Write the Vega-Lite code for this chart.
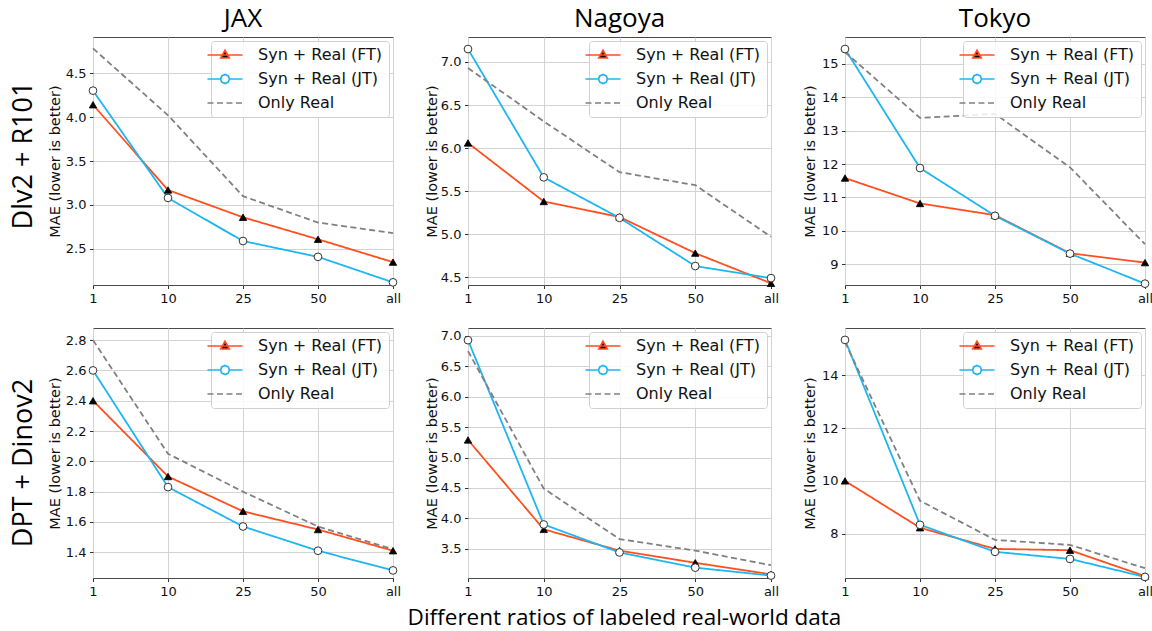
{
  "$schema": "https://vega.github.io/schema/vega-lite/v6.json",
  "background": "white",
  "padding": {"left": 9, "top": 5, "right": 0, "bottom": 4},
  "config": {
    "font": "DejaVu Sans",
    "view": {"stroke": "#4a4a4a", "strokeWidth": 1},
    "axis": {"grid": true, "gridColor": "#d3d3d3", "gridWidth": 1, "domain": false, "tickColor": "#333", "tickSize": 3.5, "labelFont": "DejaVu Sans", "labelFontSize": 13, "labelColor": "#111", "labelPadding": 3.5, "titleFont": "DejaVu Sans", "titleFontSize": 14.5, "titleFontWeight": "normal", "titleColor": "#111", "titlePadding": 3},
    "axisX": {"labelAngle": 0},
    "legend": {"orient": "top-right", "offset": 4, "fillColor": "rgba(255,255,255,0.85)", "strokeColor": "#d0d0d0", "cornerRadius": 3, "padding": 6, "labelFont": "DejaVu Sans", "labelFontSize": 16, "labelColor": "#111", "symbolSize": 100, "symbolStrokeWidth": 1.7, "labelOffset": 25, "rowPadding": 8},
    "title": {"font": "Open Sans", "fontSize": 26, "fontWeight": "normal", "color": "#000", "offset": 5},
    "concat": {"spacing": 21}
  },
  "data": {"values": [
    {"r": "top", "c": "JAX", "s": "Syn + Real (FT)", "ratio": "1", "mae": 4.14},
    {"r": "top", "c": "JAX", "s": "Syn + Real (FT)", "ratio": "10", "mae": 3.17},
    {"r": "top", "c": "JAX", "s": "Syn + Real (FT)", "ratio": "25", "mae": 2.86},
    {"r": "top", "c": "JAX", "s": "Syn + Real (FT)", "ratio": "50", "mae": 2.61},
    {"r": "top", "c": "JAX", "s": "Syn + Real (FT)", "ratio": "all", "mae": 2.35},
    {"r": "top", "c": "JAX", "s": "Syn + Real (JT)", "ratio": "1", "mae": 4.30},
    {"r": "top", "c": "JAX", "s": "Syn + Real (JT)", "ratio": "10", "mae": 3.08},
    {"r": "top", "c": "JAX", "s": "Syn + Real (JT)", "ratio": "25", "mae": 2.59},
    {"r": "top", "c": "JAX", "s": "Syn + Real (JT)", "ratio": "50", "mae": 2.41},
    {"r": "top", "c": "JAX", "s": "Syn + Real (JT)", "ratio": "all", "mae": 2.12},
    {"r": "top", "c": "JAX", "s": "Only Real", "ratio": "1", "mae": 4.78},
    {"r": "top", "c": "JAX", "s": "Only Real", "ratio": "10", "mae": 4.02},
    {"r": "top", "c": "JAX", "s": "Only Real", "ratio": "25", "mae": 3.10},
    {"r": "top", "c": "JAX", "s": "Only Real", "ratio": "50", "mae": 2.80},
    {"r": "top", "c": "JAX", "s": "Only Real", "ratio": "all", "mae": 2.68},
    {"r": "top", "c": "Nagoya", "s": "Syn + Real (FT)", "ratio": "1", "mae": 6.06},
    {"r": "top", "c": "Nagoya", "s": "Syn + Real (FT)", "ratio": "10", "mae": 5.38},
    {"r": "top", "c": "Nagoya", "s": "Syn + Real (FT)", "ratio": "25", "mae": 5.20},
    {"r": "top", "c": "Nagoya", "s": "Syn + Real (FT)", "ratio": "50", "mae": 4.78},
    {"r": "top", "c": "Nagoya", "s": "Syn + Real (FT)", "ratio": "all", "mae": 4.43},
    {"r": "top", "c": "Nagoya", "s": "Syn + Real (JT)", "ratio": "1", "mae": 7.15},
    {"r": "top", "c": "Nagoya", "s": "Syn + Real (JT)", "ratio": "10", "mae": 5.66},
    {"r": "top", "c": "Nagoya", "s": "Syn + Real (JT)", "ratio": "25", "mae": 5.19},
    {"r": "top", "c": "Nagoya", "s": "Syn + Real (JT)", "ratio": "50", "mae": 4.63},
    {"r": "top", "c": "Nagoya", "s": "Syn + Real (JT)", "ratio": "all", "mae": 4.49},
    {"r": "top", "c": "Nagoya", "s": "Only Real", "ratio": "1", "mae": 6.93},
    {"r": "top", "c": "Nagoya", "s": "Only Real", "ratio": "10", "mae": 6.31},
    {"r": "top", "c": "Nagoya", "s": "Only Real", "ratio": "25", "mae": 5.72},
    {"r": "top", "c": "Nagoya", "s": "Only Real", "ratio": "50", "mae": 5.57},
    {"r": "top", "c": "Nagoya", "s": "Only Real", "ratio": "all", "mae": 4.97},
    {"r": "top", "c": "Tokyo", "s": "Syn + Real (FT)", "ratio": "1", "mae": 11.58},
    {"r": "top", "c": "Tokyo", "s": "Syn + Real (FT)", "ratio": "10", "mae": 10.82},
    {"r": "top", "c": "Tokyo", "s": "Syn + Real (FT)", "ratio": "25", "mae": 10.47},
    {"r": "top", "c": "Tokyo", "s": "Syn + Real (FT)", "ratio": "50", "mae": 9.33},
    {"r": "top", "c": "Tokyo", "s": "Syn + Real (FT)", "ratio": "all", "mae": 9.05},
    {"r": "top", "c": "Tokyo", "s": "Syn + Real (JT)", "ratio": "1", "mae": 15.44},
    {"r": "top", "c": "Tokyo", "s": "Syn + Real (JT)", "ratio": "10", "mae": 11.88},
    {"r": "top", "c": "Tokyo", "s": "Syn + Real (JT)", "ratio": "25", "mae": 10.45},
    {"r": "top", "c": "Tokyo", "s": "Syn + Real (JT)", "ratio": "50", "mae": 9.32},
    {"r": "top", "c": "Tokyo", "s": "Syn + Real (JT)", "ratio": "all", "mae": 8.42},
    {"r": "top", "c": "Tokyo", "s": "Only Real", "ratio": "1", "mae": 15.35},
    {"r": "top", "c": "Tokyo", "s": "Only Real", "ratio": "10", "mae": 13.38},
    {"r": "top", "c": "Tokyo", "s": "Only Real", "ratio": "25", "mae": 13.50},
    {"r": "top", "c": "Tokyo", "s": "Only Real", "ratio": "50", "mae": 11.90},
    {"r": "top", "c": "Tokyo", "s": "Only Real", "ratio": "all", "mae": 9.60},
    {"r": "bot", "c": "JAX", "s": "Syn + Real (FT)", "ratio": "1", "mae": 2.40},
    {"r": "bot", "c": "JAX", "s": "Syn + Real (FT)", "ratio": "10", "mae": 1.90},
    {"r": "bot", "c": "JAX", "s": "Syn + Real (FT)", "ratio": "25", "mae": 1.67},
    {"r": "bot", "c": "JAX", "s": "Syn + Real (FT)", "ratio": "50", "mae": 1.55},
    {"r": "bot", "c": "JAX", "s": "Syn + Real (FT)", "ratio": "all", "mae": 1.41},
    {"r": "bot", "c": "JAX", "s": "Syn + Real (JT)", "ratio": "1", "mae": 2.60},
    {"r": "bot", "c": "JAX", "s": "Syn + Real (JT)", "ratio": "10", "mae": 1.83},
    {"r": "bot", "c": "JAX", "s": "Syn + Real (JT)", "ratio": "25", "mae": 1.57},
    {"r": "bot", "c": "JAX", "s": "Syn + Real (JT)", "ratio": "50", "mae": 1.41},
    {"r": "bot", "c": "JAX", "s": "Syn + Real (JT)", "ratio": "all", "mae": 1.28},
    {"r": "bot", "c": "JAX", "s": "Only Real", "ratio": "1", "mae": 2.80},
    {"r": "bot", "c": "JAX", "s": "Only Real", "ratio": "10", "mae": 2.05},
    {"r": "bot", "c": "JAX", "s": "Only Real", "ratio": "25", "mae": 1.80},
    {"r": "bot", "c": "JAX", "s": "Only Real", "ratio": "50", "mae": 1.57},
    {"r": "bot", "c": "JAX", "s": "Only Real", "ratio": "all", "mae": 1.42},
    {"r": "bot", "c": "Nagoya", "s": "Syn + Real (FT)", "ratio": "1", "mae": 5.29},
    {"r": "bot", "c": "Nagoya", "s": "Syn + Real (FT)", "ratio": "10", "mae": 3.82},
    {"r": "bot", "c": "Nagoya", "s": "Syn + Real (FT)", "ratio": "25", "mae": 3.47},
    {"r": "bot", "c": "Nagoya", "s": "Syn + Real (FT)", "ratio": "50", "mae": 3.27},
    {"r": "bot", "c": "Nagoya", "s": "Syn + Real (FT)", "ratio": "all", "mae": 3.08},
    {"r": "bot", "c": "Nagoya", "s": "Syn + Real (JT)", "ratio": "1", "mae": 6.93},
    {"r": "bot", "c": "Nagoya", "s": "Syn + Real (JT)", "ratio": "10", "mae": 3.90},
    {"r": "bot", "c": "Nagoya", "s": "Syn + Real (JT)", "ratio": "25", "mae": 3.44},
    {"r": "bot", "c": "Nagoya", "s": "Syn + Real (JT)", "ratio": "50", "mae": 3.19},
    {"r": "bot", "c": "Nagoya", "s": "Syn + Real (JT)", "ratio": "all", "mae": 3.06},
    {"r": "bot", "c": "Nagoya", "s": "Only Real", "ratio": "1", "mae": 6.75},
    {"r": "bot", "c": "Nagoya", "s": "Only Real", "ratio": "10", "mae": 4.49},
    {"r": "bot", "c": "Nagoya", "s": "Only Real", "ratio": "25", "mae": 3.66},
    {"r": "bot", "c": "Nagoya", "s": "Only Real", "ratio": "50", "mae": 3.47},
    {"r": "bot", "c": "Nagoya", "s": "Only Real", "ratio": "all", "mae": 3.23},
    {"r": "bot", "c": "Tokyo", "s": "Syn + Real (FT)", "ratio": "1", "mae": 10.0},
    {"r": "bot", "c": "Tokyo", "s": "Syn + Real (FT)", "ratio": "10", "mae": 8.23},
    {"r": "bot", "c": "Tokyo", "s": "Syn + Real (FT)", "ratio": "25", "mae": 7.43},
    {"r": "bot", "c": "Tokyo", "s": "Syn + Real (FT)", "ratio": "50", "mae": 7.38},
    {"r": "bot", "c": "Tokyo", "s": "Syn + Real (FT)", "ratio": "all", "mae": 6.40},
    {"r": "bot", "c": "Tokyo", "s": "Syn + Real (JT)", "ratio": "1", "mae": 15.33},
    {"r": "bot", "c": "Tokyo", "s": "Syn + Real (JT)", "ratio": "10", "mae": 8.34},
    {"r": "bot", "c": "Tokyo", "s": "Syn + Real (JT)", "ratio": "25", "mae": 7.32},
    {"r": "bot", "c": "Tokyo", "s": "Syn + Real (JT)", "ratio": "50", "mae": 7.05},
    {"r": "bot", "c": "Tokyo", "s": "Syn + Real (JT)", "ratio": "all", "mae": 6.37},
    {"r": "bot", "c": "Tokyo", "s": "Only Real", "ratio": "1", "mae": 15.25},
    {"r": "bot", "c": "Tokyo", "s": "Only Real", "ratio": "10", "mae": 9.25},
    {"r": "bot", "c": "Tokyo", "s": "Only Real", "ratio": "25", "mae": 7.77},
    {"r": "bot", "c": "Tokyo", "s": "Only Real", "ratio": "50", "mae": 7.58},
    {"r": "bot", "c": "Tokyo", "s": "Only Real", "ratio": "all", "mae": 6.70}
  ]},
  "title": {"text": "Different ratios of labeled real-world data", "orient": "bottom", "fontSize": 22.5, "offset": 8, "anchor": "middle", "frame": "bounds", "dx": 43},
  "resolve": {"legend": {"stroke": "independent", "fill": "independent", "shape": "independent", "strokeDash": "independent"}},
  "vconcat": [
    {
      "title": {"text": "Dlv2 + R101", "orient": "left", "fontSize": 27, "anchor": "middle", "offset": 9, "frame": "bounds"},
      "resolve": {"legend": {"stroke": "independent", "fill": "independent", "shape": "independent", "strokeDash": "independent"}},
      "hconcat": [
        {
          "width": 300, "height": 248,
          "title": {"text": "JAX", "frame": "group"},
          "transform": [{"filter": "datum.r == 'top' && datum.c == 'JAX'"}],
          "encoding": {
            "x": {"field": "ratio", "type": "ordinal", "sort": ["1", "10", "25", "50", "all"], "scale": {"type": "point", "padding": 0}, "axis": {"title": null}},
            "y": {"field": "mae", "type": "quantitative", "title": "MAE (lower is better)", "scale": {"domain": [2.09, 4.91], "nice": false, "zero": false}, "axis": {"values": [2.5, 3.0, 3.5, 4.0, 4.5], "format": ".1f", "titlePadding": 3}}
          },
          "layer": [
            {"transform": [{"filter": "false"}], "mark": {"type": "point", "filled": true, "opacity": 1}, "encoding": {
              "shape": {"field": "s", "type": "nominal", "scale": {"domain": ["Syn + Real (FT)", "Syn + Real (JT)", "Only Real"], "range": ["M-3.5,0H3.5M0,-0.95L0.85,0.6H-0.85Z", "M-3.5,0H-0.9M0.9,0H3.5M-0.9,0L-0.64,-0.64L0,-0.9L0.64,-0.64L0.9,0L0.64,0.64L0,0.9L-0.64,0.64Z", "M-3.5,0H3.5"]}, "legend": {"title": null, "orient": "top-right"}},
              "stroke": {"field": "s", "type": "nominal", "scale": {"domain": ["Syn + Real (FT)", "Syn + Real (JT)", "Only Real"], "range": ["#ff4f1f", "#1eb6f0", "#808080"]}, "legend": {"title": null, "orient": "top-right"}},
              "fill": {"field": "s", "type": "nominal", "scale": {"domain": ["Syn + Real (FT)", "Syn + Real (JT)", "Only Real"], "range": ["#000000", "#ffffff", "#ffffff"]}, "legend": {"title": null, "orient": "top-right"}},
              "strokeDash": {"field": "s", "type": "nominal", "scale": {"domain": ["Syn + Real (FT)", "Syn + Real (JT)", "Only Real"], "range": [[1, 0], [1, 0], [6, 3.5]]}, "legend": {"title": null, "orient": "top-right"}}
            }},
            {"mark": {"type": "line", "strokeWidth": 1.8}, "encoding": {"stroke": {"field": "s", "type": "nominal", "scale": {"domain": ["Syn + Real (FT)", "Syn + Real (JT)", "Only Real"], "range": ["#ff4f1f", "#1eb6f0", "#808080"]}, "legend": {"title": null, "orient": "top-right"}}, "strokeDash": {"field": "s", "type": "nominal", "scale": {"domain": ["Syn + Real (FT)", "Syn + Real (JT)", "Only Real"], "range": [[1, 0], [1, 0], [6, 3.5]]}, "legend": {"title": null, "orient": "top-right"}}}},
            {"transform": [{"filter": "datum.s == 'Syn + Real (FT)'"}], "mark": {"type": "point", "shape": "triangle-up", "filled": true, "fill": "black", "stroke": "black", "strokeWidth": 0.8, "size": 55, "opacity": 1}},
            {"transform": [{"filter": "datum.s == 'Syn + Real (JT)'"}], "mark": {"type": "point", "shape": "circle", "filled": true, "fill": "white", "stroke": "#333", "strokeWidth": 1, "size": 60, "opacity": 1}}
          ]
        },
        {
          "width": 303, "height": 248,
          "title": {"text": "Nagoya", "frame": "group"},
          "transform": [{"filter": "datum.r == 'top' && datum.c == 'Nagoya'"}],
          "encoding": {
            "x": {"field": "ratio", "type": "ordinal", "sort": ["1", "10", "25", "50", "all"], "scale": {"type": "point", "padding": 0}, "axis": {"title": null}},
            "y": {"field": "mae", "type": "quantitative", "title": "MAE (lower is better)", "scale": {"domain": [4.41, 7.29], "nice": false, "zero": false}, "axis": {"values": [4.5, 5.0, 5.5, 6.0, 6.5, 7.0], "format": ".1f", "titlePadding": 1}}
          },
          "layer": [
            {"transform": [{"filter": "false"}], "mark": {"type": "point", "filled": true, "opacity": 1}, "encoding": {
              "shape": {"field": "s", "type": "nominal", "scale": {"domain": ["Syn + Real (FT)", "Syn + Real (JT)", "Only Real"], "range": ["M-3.5,0H3.5M0,-0.95L0.85,0.6H-0.85Z", "M-3.5,0H-0.9M0.9,0H3.5M-0.9,0L-0.64,-0.64L0,-0.9L0.64,-0.64L0.9,0L0.64,0.64L0,0.9L-0.64,0.64Z", "M-3.5,0H3.5"]}, "legend": {"title": null, "orient": "top-right"}},
              "stroke": {"field": "s", "type": "nominal", "scale": {"domain": ["Syn + Real (FT)", "Syn + Real (JT)", "Only Real"], "range": ["#ff4f1f", "#1eb6f0", "#808080"]}, "legend": {"title": null, "orient": "top-right"}},
              "fill": {"field": "s", "type": "nominal", "scale": {"domain": ["Syn + Real (FT)", "Syn + Real (JT)", "Only Real"], "range": ["#000000", "#ffffff", "#ffffff"]}, "legend": {"title": null, "orient": "top-right"}},
              "strokeDash": {"field": "s", "type": "nominal", "scale": {"domain": ["Syn + Real (FT)", "Syn + Real (JT)", "Only Real"], "range": [[1, 0], [1, 0], [6, 3.5]]}, "legend": {"title": null, "orient": "top-right"}}
            }},
            {"mark": {"type": "line", "strokeWidth": 1.8}, "encoding": {"stroke": {"field": "s", "type": "nominal", "scale": {"domain": ["Syn + Real (FT)", "Syn + Real (JT)", "Only Real"], "range": ["#ff4f1f", "#1eb6f0", "#808080"]}, "legend": {"title": null, "orient": "top-right"}}, "strokeDash": {"field": "s", "type": "nominal", "scale": {"domain": ["Syn + Real (FT)", "Syn + Real (JT)", "Only Real"], "range": [[1, 0], [1, 0], [6, 3.5]]}, "legend": {"title": null, "orient": "top-right"}}}},
            {"transform": [{"filter": "datum.s == 'Syn + Real (FT)'"}], "mark": {"type": "point", "shape": "triangle-up", "filled": true, "fill": "black", "stroke": "black", "strokeWidth": 0.8, "size": 55, "opacity": 1}},
            {"transform": [{"filter": "datum.s == 'Syn + Real (JT)'"}], "mark": {"type": "point", "shape": "circle", "filled": true, "fill": "white", "stroke": "#333", "strokeWidth": 1, "size": 60, "opacity": 1}}
          ]
        },
        {
          "width": 300, "height": 248,
          "title": {"text": "Tokyo", "frame": "group"},
          "transform": [{"filter": "datum.r == 'top' && datum.c == 'Tokyo'"}],
          "encoding": {
            "x": {"field": "ratio", "type": "ordinal", "sort": ["1", "10", "25", "50", "all"], "scale": {"type": "point", "padding": 0}, "axis": {"title": null}},
            "y": {"field": "mae", "type": "quantitative", "title": "MAE (lower is better)", "scale": {"domain": [8.38, 15.8], "nice": false, "zero": false}, "axis": {"values": [9, 10, 11, 12, 13, 14, 15], "format": "d", "titlePadding": 4}}
          },
          "layer": [
            {"transform": [{"filter": "false"}], "mark": {"type": "point", "filled": true, "opacity": 1}, "encoding": {
              "shape": {"field": "s", "type": "nominal", "scale": {"domain": ["Syn + Real (FT)", "Syn + Real (JT)", "Only Real"], "range": ["M-3.5,0H3.5M0,-0.95L0.85,0.6H-0.85Z", "M-3.5,0H-0.9M0.9,0H3.5M-0.9,0L-0.64,-0.64L0,-0.9L0.64,-0.64L0.9,0L0.64,0.64L0,0.9L-0.64,0.64Z", "M-3.5,0H3.5"]}, "legend": {"title": null, "orient": "top-right"}},
              "stroke": {"field": "s", "type": "nominal", "scale": {"domain": ["Syn + Real (FT)", "Syn + Real (JT)", "Only Real"], "range": ["#ff4f1f", "#1eb6f0", "#808080"]}, "legend": {"title": null, "orient": "top-right"}},
              "fill": {"field": "s", "type": "nominal", "scale": {"domain": ["Syn + Real (FT)", "Syn + Real (JT)", "Only Real"], "range": ["#000000", "#ffffff", "#ffffff"]}, "legend": {"title": null, "orient": "top-right"}},
              "strokeDash": {"field": "s", "type": "nominal", "scale": {"domain": ["Syn + Real (FT)", "Syn + Real (JT)", "Only Real"], "range": [[1, 0], [1, 0], [6, 3.5]]}, "legend": {"title": null, "orient": "top-right"}}
            }},
            {"mark": {"type": "line", "strokeWidth": 1.8}, "encoding": {"stroke": {"field": "s", "type": "nominal", "scale": {"domain": ["Syn + Real (FT)", "Syn + Real (JT)", "Only Real"], "range": ["#ff4f1f", "#1eb6f0", "#808080"]}, "legend": {"title": null, "orient": "top-right"}}, "strokeDash": {"field": "s", "type": "nominal", "scale": {"domain": ["Syn + Real (FT)", "Syn + Real (JT)", "Only Real"], "range": [[1, 0], [1, 0], [6, 3.5]]}, "legend": {"title": null, "orient": "top-right"}}}},
            {"transform": [{"filter": "datum.s == 'Syn + Real (FT)'"}], "mark": {"type": "point", "shape": "triangle-up", "filled": true, "fill": "black", "stroke": "black", "strokeWidth": 0.8, "size": 55, "opacity": 1}},
            {"transform": [{"filter": "datum.s == 'Syn + Real (JT)'"}], "mark": {"type": "point", "shape": "circle", "filled": true, "fill": "white", "stroke": "#333", "strokeWidth": 1, "size": 60, "opacity": 1}}
          ]
        }
      ]
    },
    {
      "title": {"text": "DPT + Dinov2", "orient": "left", "fontSize": 27, "anchor": "middle", "offset": 9, "frame": "bounds"},
      "resolve": {"legend": {"stroke": "independent", "fill": "independent", "shape": "independent", "strokeDash": "independent"}},
      "hconcat": [
        {
          "width": 300, "height": 250,
          "transform": [{"filter": "datum.r == 'bot' && datum.c == 'JAX'"}],
          "encoding": {
            "x": {"field": "ratio", "type": "ordinal", "sort": ["1", "10", "25", "50", "all"], "scale": {"type": "point", "padding": 0}, "axis": {"title": null}},
            "y": {"field": "mae", "type": "quantitative", "title": "MAE (lower is better)", "scale": {"domain": [1.23, 2.88], "nice": false, "zero": false}, "axis": {"values": [1.4, 1.6, 1.8, 2.0, 2.2, 2.4, 2.6, 2.8], "format": ".1f", "titlePadding": 3}}
          },
          "layer": [
            {"transform": [{"filter": "false"}], "mark": {"type": "point", "filled": true, "opacity": 1}, "encoding": {
              "shape": {"field": "s", "type": "nominal", "scale": {"domain": ["Syn + Real (FT)", "Syn + Real (JT)", "Only Real"], "range": ["M-3.5,0H3.5M0,-0.95L0.85,0.6H-0.85Z", "M-3.5,0H-0.9M0.9,0H3.5M-0.9,0L-0.64,-0.64L0,-0.9L0.64,-0.64L0.9,0L0.64,0.64L0,0.9L-0.64,0.64Z", "M-3.5,0H3.5"]}, "legend": {"title": null, "orient": "top-right"}},
              "stroke": {"field": "s", "type": "nominal", "scale": {"domain": ["Syn + Real (FT)", "Syn + Real (JT)", "Only Real"], "range": ["#ff4f1f", "#1eb6f0", "#808080"]}, "legend": {"title": null, "orient": "top-right"}},
              "fill": {"field": "s", "type": "nominal", "scale": {"domain": ["Syn + Real (FT)", "Syn + Real (JT)", "Only Real"], "range": ["#000000", "#ffffff", "#ffffff"]}, "legend": {"title": null, "orient": "top-right"}},
              "strokeDash": {"field": "s", "type": "nominal", "scale": {"domain": ["Syn + Real (FT)", "Syn + Real (JT)", "Only Real"], "range": [[1, 0], [1, 0], [6, 3.5]]}, "legend": {"title": null, "orient": "top-right"}}
            }},
            {"mark": {"type": "line", "strokeWidth": 1.8}, "encoding": {"stroke": {"field": "s", "type": "nominal", "scale": {"domain": ["Syn + Real (FT)", "Syn + Real (JT)", "Only Real"], "range": ["#ff4f1f", "#1eb6f0", "#808080"]}, "legend": {"title": null, "orient": "top-right"}}, "strokeDash": {"field": "s", "type": "nominal", "scale": {"domain": ["Syn + Real (FT)", "Syn + Real (JT)", "Only Real"], "range": [[1, 0], [1, 0], [6, 3.5]]}, "legend": {"title": null, "orient": "top-right"}}}},
            {"transform": [{"filter": "datum.s == 'Syn + Real (FT)'"}], "mark": {"type": "point", "shape": "triangle-up", "filled": true, "fill": "black", "stroke": "black", "strokeWidth": 0.8, "size": 55, "opacity": 1}},
            {"transform": [{"filter": "datum.s == 'Syn + Real (JT)'"}], "mark": {"type": "point", "shape": "circle", "filled": true, "fill": "white", "stroke": "#333", "strokeWidth": 1, "size": 60, "opacity": 1}}
          ]
        },
        {
          "width": 303, "height": 250,
          "transform": [{"filter": "datum.r == 'bot' && datum.c == 'Nagoya'"}],
          "encoding": {
            "x": {"field": "ratio", "type": "ordinal", "sort": ["1", "10", "25", "50", "all"], "scale": {"type": "point", "padding": 0}, "axis": {"title": null}},
            "y": {"field": "mae", "type": "quantitative", "title": "MAE (lower is better)", "scale": {"domain": [3.02, 7.13], "nice": false, "zero": false}, "axis": {"values": [3.5, 4.0, 4.5, 5.0, 5.5, 6.0, 6.5, 7.0], "format": ".1f", "titlePadding": 1}}
          },
          "layer": [
            {"transform": [{"filter": "false"}], "mark": {"type": "point", "filled": true, "opacity": 1}, "encoding": {
              "shape": {"field": "s", "type": "nominal", "scale": {"domain": ["Syn + Real (FT)", "Syn + Real (JT)", "Only Real"], "range": ["M-3.5,0H3.5M0,-0.95L0.85,0.6H-0.85Z", "M-3.5,0H-0.9M0.9,0H3.5M-0.9,0L-0.64,-0.64L0,-0.9L0.64,-0.64L0.9,0L0.64,0.64L0,0.9L-0.64,0.64Z", "M-3.5,0H3.5"]}, "legend": {"title": null, "orient": "top-right"}},
              "stroke": {"field": "s", "type": "nominal", "scale": {"domain": ["Syn + Real (FT)", "Syn + Real (JT)", "Only Real"], "range": ["#ff4f1f", "#1eb6f0", "#808080"]}, "legend": {"title": null, "orient": "top-right"}},
              "fill": {"field": "s", "type": "nominal", "scale": {"domain": ["Syn + Real (FT)", "Syn + Real (JT)", "Only Real"], "range": ["#000000", "#ffffff", "#ffffff"]}, "legend": {"title": null, "orient": "top-right"}},
              "strokeDash": {"field": "s", "type": "nominal", "scale": {"domain": ["Syn + Real (FT)", "Syn + Real (JT)", "Only Real"], "range": [[1, 0], [1, 0], [6, 3.5]]}, "legend": {"title": null, "orient": "top-right"}}
            }},
            {"mark": {"type": "line", "strokeWidth": 1.8}, "encoding": {"stroke": {"field": "s", "type": "nominal", "scale": {"domain": ["Syn + Real (FT)", "Syn + Real (JT)", "Only Real"], "range": ["#ff4f1f", "#1eb6f0", "#808080"]}, "legend": {"title": null, "orient": "top-right"}}, "strokeDash": {"field": "s", "type": "nominal", "scale": {"domain": ["Syn + Real (FT)", "Syn + Real (JT)", "Only Real"], "range": [[1, 0], [1, 0], [6, 3.5]]}, "legend": {"title": null, "orient": "top-right"}}}},
            {"transform": [{"filter": "datum.s == 'Syn + Real (FT)'"}], "mark": {"type": "point", "shape": "triangle-up", "filled": true, "fill": "black", "stroke": "black", "strokeWidth": 0.8, "size": 55, "opacity": 1}},
            {"transform": [{"filter": "datum.s == 'Syn + Real (JT)'"}], "mark": {"type": "point", "shape": "circle", "filled": true, "fill": "white", "stroke": "#333", "strokeWidth": 1, "size": 60, "opacity": 1}}
          ]
        },
        {
          "width": 300, "height": 250,
          "transform": [{"filter": "datum.r == 'bot' && datum.c == 'Tokyo'"}],
          "encoding": {
            "x": {"field": "ratio", "type": "ordinal", "sort": ["1", "10", "25", "50", "all"], "scale": {"type": "point", "padding": 0}, "axis": {"title": null}},
            "y": {"field": "mae", "type": "quantitative", "title": "MAE (lower is better)", "scale": {"domain": [6.33, 15.78], "nice": false, "zero": false}, "axis": {"values": [8, 10, 12, 14], "format": "d", "titlePadding": 4}}
          },
          "layer": [
            {"transform": [{"filter": "false"}], "mark": {"type": "point", "filled": true, "opacity": 1}, "encoding": {
              "shape": {"field": "s", "type": "nominal", "scale": {"domain": ["Syn + Real (FT)", "Syn + Real (JT)", "Only Real"], "range": ["M-3.5,0H3.5M0,-0.95L0.85,0.6H-0.85Z", "M-3.5,0H-0.9M0.9,0H3.5M-0.9,0L-0.64,-0.64L0,-0.9L0.64,-0.64L0.9,0L0.64,0.64L0,0.9L-0.64,0.64Z", "M-3.5,0H3.5"]}, "legend": {"title": null, "orient": "top-right"}},
              "stroke": {"field": "s", "type": "nominal", "scale": {"domain": ["Syn + Real (FT)", "Syn + Real (JT)", "Only Real"], "range": ["#ff4f1f", "#1eb6f0", "#808080"]}, "legend": {"title": null, "orient": "top-right"}},
              "fill": {"field": "s", "type": "nominal", "scale": {"domain": ["Syn + Real (FT)", "Syn + Real (JT)", "Only Real"], "range": ["#000000", "#ffffff", "#ffffff"]}, "legend": {"title": null, "orient": "top-right"}},
              "strokeDash": {"field": "s", "type": "nominal", "scale": {"domain": ["Syn + Real (FT)", "Syn + Real (JT)", "Only Real"], "range": [[1, 0], [1, 0], [6, 3.5]]}, "legend": {"title": null, "orient": "top-right"}}
            }},
            {"mark": {"type": "line", "strokeWidth": 1.8}, "encoding": {"stroke": {"field": "s", "type": "nominal", "scale": {"domain": ["Syn + Real (FT)", "Syn + Real (JT)", "Only Real"], "range": ["#ff4f1f", "#1eb6f0", "#808080"]}, "legend": {"title": null, "orient": "top-right"}}, "strokeDash": {"field": "s", "type": "nominal", "scale": {"domain": ["Syn + Real (FT)", "Syn + Real (JT)", "Only Real"], "range": [[1, 0], [1, 0], [6, 3.5]]}, "legend": {"title": null, "orient": "top-right"}}}},
            {"transform": [{"filter": "datum.s == 'Syn + Real (FT)'"}], "mark": {"type": "point", "shape": "triangle-up", "filled": true, "fill": "black", "stroke": "black", "strokeWidth": 0.8, "size": 55, "opacity": 1}},
            {"transform": [{"filter": "datum.s == 'Syn + Real (JT)'"}], "mark": {"type": "point", "shape": "circle", "filled": true, "fill": "white", "stroke": "#333", "strokeWidth": 1, "size": 60, "opacity": 1}}
          ]
        }
      ]
    }
  ]
}
